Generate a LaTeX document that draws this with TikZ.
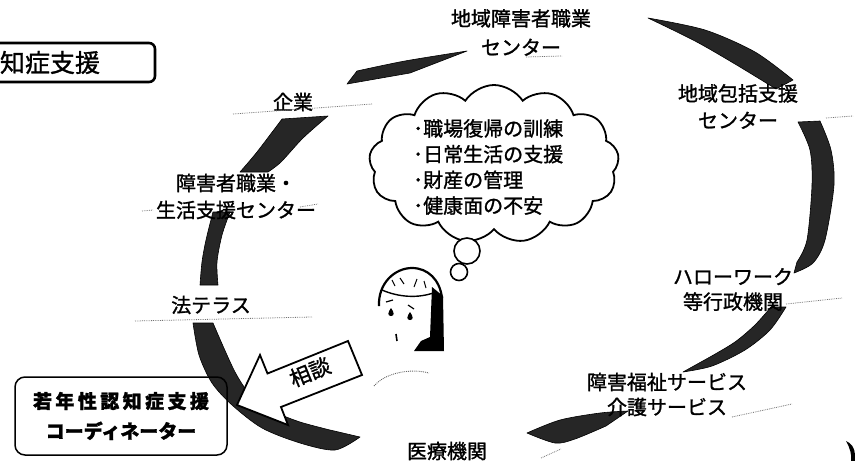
\documentclass[tikz,border=0pt]{standalone}
\usepackage{fontspec}
\setmainfont{Noto Sans CJK JP}[FakeBold=1.3]
\usetikzlibrary{shapes.symbols}

\begin{document}
\begin{tikzpicture}[x=1pt,y=-1pt,
  lbl/.style={inner sep=0pt, align=center, font=\fontsize{20}{27}\selectfont},
  band/.style={fill=black!85, draw=black, line width=0.6pt, line join=round},
  leader/.style={densely dotted, black!55, line width=0.8pt},
  puff/.style={circle, draw, line width=1.6pt, fill=white, inner sep=0pt}]
\useasboundingbox (0,0) rectangle (855,461);
\clip (0,0) rectangle (855,461);

% ---- ring of brush-stroke arrows ----
% upper left
\path[band] plot[smooth] coordinates {(282,119) (257,152) (240,172)}
  -- plot[smooth] coordinates {(268,172) (281,162) (303,138) (328,116)} -- cycle;
% left
\path[band] plot[smooth] coordinates {(213,212) (206,240) (202,262) (200,285)}
  -- plot[smooth] coordinates {(218,285) (217,262) (222,235) (230,212)} -- cycle;
% top
\path[band] plot[smooth] coordinates {(357,71) (405,61) (467,51)}
  -- plot[smooth] coordinates {(410,73) (347,84)} -- cycle;
% top right
\path[band] plot[smooth] coordinates {(648,18) (705,30) (755,52) (793,80)}
  -- plot[smooth] coordinates {(776,89) (735,64) (695,41) (648,18)} -- cycle;
% right
\path[band] plot[smooth] coordinates {(820,121) (831,150) (834,185) (825,240) (813,263) (794,273)}
  -- plot[smooth] coordinates {(797,262) (807,240) (812,185) (810,150) (798,122)} -- cycle;
% lower right
\path[band] plot[smooth] coordinates {(786,307) (770,330) (745,350) (712,366) (683,372)}
  -- plot[smooth] coordinates {(710,357) (735,342) (755,325) (771,307)} -- cycle;
% bottom
\path[band] plot[smooth] coordinates {(527,433) (560,420) (600,413) (628,411)}
  -- plot[smooth] coordinates {(606,426) (575,439) (555,443) (527,433)} -- cycle;
% bottom left
\path[band] plot[smooth] coordinates {(193,323) (199,355) (212,383) (232,405) (262,428) (300,443) (335,450) (360,437)}
  -- plot[smooth] coordinates {(330,430) (300,422) (275,412) (253,398) (235,372) (213,323)} -- cycle;

% ---- labels around the ring ----
\node[lbl, font=\fontsize{20}{29}\selectfont] (chiikiShokugyo) at (521,32.5) {地域障害者職業\\センター};
\node[lbl] (kigyo) at (293,102) {企業};
\node[lbl] (houkatsu) at (738,106.5) {地域包括支援\\センター};
\node[lbl] (seikatsu) at (236,196.5) {障害者職業・\\生活支援センター};
\node[lbl] (houterasu) at (211,305) {法テラス};
\node[lbl, font=\fontsize{20}{25}\selectfont] (hello) at (733,289.5) {ハローワーク\\等行政機関};
\node[lbl, font=\fontsize{20}{25}\selectfont] (fukushi) at (667,394.5) {障害福祉サービス\\介護サービス};
\node[lbl] (iryou) at (447,451) {医療機関};

% dotted leaders next to the labels
\coordinate (k1) at (233,114); \coordinate (k2) at (372,104);
\draw[leader] (k1) -- (k2);
\coordinate (c1) at (526,57); \coordinate (c2) at (562,56);
\draw[leader] (c1) -- (c2);
\coordinate (h1) at (826,118); \coordinate (h2) at (853,116);
\draw[leader] (h1) -- (h2);
\coordinate (s1) at (142,211); \coordinate (s2) at (153,210);
\draw[leader] (s1) -- (s2);
\coordinate (s3) at (300,207); \coordinate (s4) at (318,204);
\draw[leader] (s3) -- (s4);
\coordinate (t1) at (135,321); \coordinate (t2) at (312,317);
\draw[leader] (t1) -- (t2);
\coordinate (w1) at (786,304); \coordinate (w2) at (842,298);
\draw[leader] (w1) -- (w2);
\coordinate (f1) at (732,417); \coordinate (f2) at (792,404);
\draw[leader] (f1) -- (f2);
\coordinate (i1) at (541,458); \coordinate (i2) at (561,449);
\draw[leader] (i1) -- (i2);

% ---- thought bubble ----
\node[cloud, cloud puffs=13, cloud puff arc=115, aspect=1.6, draw, line width=1.8pt,
      minimum width=250pt, minimum height=158pt, inner sep=0pt] (bubble) at (494,164) {};
\node[lbl, anchor=west, align=left, font=\fontsize{20}{25.7}\selectfont] (worries) at (413,167)
  {･職場復帰の訓練\\･日常生活の支援\\･財産の管理\\･健康面の不安};
\node[puff, minimum size=26pt] (puffA) at (467,251) {};
\node[puff, minimum size=17pt] (puffB) at (459,272) {};

% ---- worried person ----
\fill (432,287) -- (443,296) -- (444,351) -- (414,351) -- (421,341) -- (430,337) -- cycle;
\draw[line width=2.2pt] (379,306) .. controls (378,283) and (395,268) .. (412,268)
  .. controls (428,268) and (440,280) .. (442,298);
\draw[line width=1.4pt] (382,290) .. controls (398,297) and (418,299) .. (436,292);
\draw[line width=1pt] (392,280) -- (395,286) (400,278) -- (404,284) (417,279) -- (414,287) (424,281) -- (426,288);
\draw[line width=1.2pt] (386,302) -- (393,300) (408,305) -- (414,309);
\fill (391,308) .. controls (394,312) and (395,316) .. (391,316) .. controls (387,316) and (388,312) .. (391,308);
\fill (410,312) .. controls (413,316) and (414,320) .. (410,320) .. controls (406,320) and (407,316) .. (410,312);
\draw[line width=1.6pt] (396,334) -- (397,341);
\draw[densely dotted, black!60, line width=0.9pt] (374,386) .. controls (385,373) and (410,368) .. (429,373);

% ---- consultation arrow ----
\draw[line width=1.8pt, fill=white, line join=miter]
  (237,405) -- (260,355) -- (267.5,373.5) -- (348,341) -- (362,375) -- (281,407) -- (288,425) -- cycle;
\node[lbl, rotate=22, font=\fontsize{21}{21}\selectfont] (soudan) at (310,372) {相談};

% ---- boxes ----
\node[draw, line width=2.6pt, rounded corners=6pt, inner xsep=20pt, inner ysep=0pt,
      text width=135pt, minimum height=39pt, align=left,
      font=\fontsize{25}{25}\selectfont] (support) at (67.5,62.5) {知症支援};
\node[draw, line width=1.5pt, rounded corners=10pt, minimum width=212pt, minimum height=78pt,
      inner sep=0pt, align=center, font=\bfseries\fontsize{19}{30}\selectfont] (coordinator) at (121,416)
  {{\addfontfeature{LetterSpace=18}若年性認知症支援}\\コーディネーター};

% ---- stroke cut by the right edge ----
\fill (846,441) .. controls (851,443) and (855,448) .. (855,455) -- (855,461) -- (851,461)
  .. controls (852,455) and (850,448) .. (846,441) -- cycle;
\end{tikzpicture}
\end{document}
